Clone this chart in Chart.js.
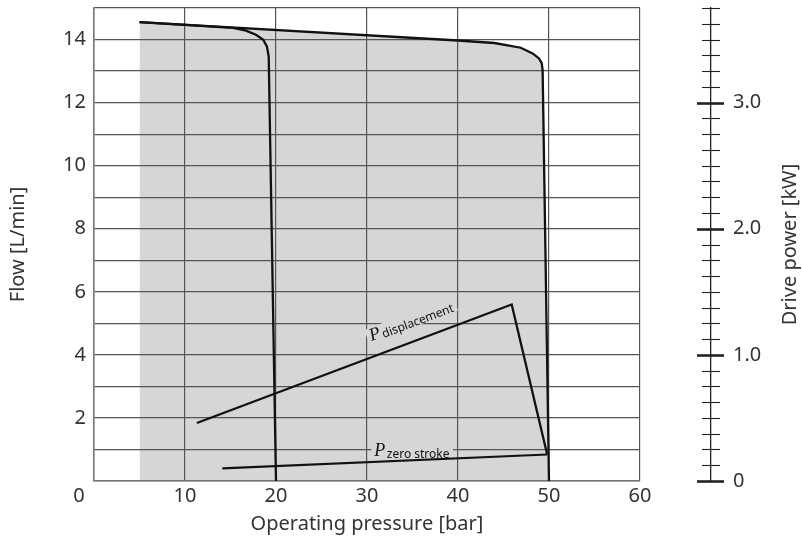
<!DOCTYPE html>
<html><head><meta charset="utf-8">
<script src="https://cdn.jsdelivr.net/npm/chart.js@4.4.0/dist/chart.umd.min.js"></script>
<style>html,body{margin:0;padding:0;background:#fff;} #wrap{width:802px;height:542px;position:relative;}</style>
</head><body><div id="wrap"><canvas id="c"></canvas></div>
<script>
// ---- data ----
const curve50Pressure = [5, 40, 44, 46.9, 48.2, 48.9, 49.2, 49.3, 50];
const curve50Flow     = [14.55, 13.97, 13.89, 13.74, 13.56, 13.40, 13.25, 13.03, 0];
const curve20Pressure = [5, 15.3, 16.7, 17.8, 18.6, 19.0, 19.2, 20];
const curve20Flow     = [14.55, 14.37, 14.28, 14.15, 13.99, 13.78, 13.46, 0];
const pDispPressure = [11.3, 45.9, 49.8];
const pDispPower    = [0.46, 1.40, 0.21];
const pZeroPressure = [14.1, 49.8];
const pZeroPower    = [0.10, 0.21];
const pressureTickStep = 10;
const flowTickStep = 1;
const flowLabelStep = 2;
const powerTickStep = 0.125;
const powerLabels = [0, 1, 2, 3];

const toPts = (xs, ys) => xs.map((x, i) => ({x: x, y: ys[i]}));
const FONT = '"Noto Sans", sans-serif';
const FS = 20;
const TXT = '#333';
const GRAY = '#d5d6d8';

const rightAxisExtras = {
  id: 'rightAxisExtras',
  afterDraw(chart) {
    const s = chart.scales.y2, ctx = chart.ctx, x0 = s.left;
    ctx.save();
    ctx.strokeStyle = '#222';
    s.ticks.forEach(t => {
      const py = Math.round(s.getPixelForValue(t.value)) + 0.5;
      const major = Math.abs(t.value - Math.round(t.value)) < 1e-6;
      ctx.lineWidth = major ? 2.6 : 1.1;
      ctx.beginPath();
      ctx.moveTo(x0 - (major ? 14 : 9), py);
      ctx.lineTo(x0 + (major ? 13 : 9), py);
      ctx.stroke();
    });
    // axis title, reading bottom-to-top like the reference
    ctx.translate(s.right - 12, (s.top + s.bottom) / 2);
    ctx.rotate(-Math.PI / 2);
    ctx.fillStyle = TXT;
    ctx.font = FS + 'px ' + FONT;
    ctx.textAlign = 'center';
    ctx.textBaseline = 'middle';
    ctx.fillText('Drive power [kW]', 0, 0);
    ctx.restore();
  }
};

function pLabel(ctx, x, y, angle, sub) {
  ctx.save();
  ctx.translate(x, y);
  ctx.rotate(angle);
  ctx.font = 'italic 18px "Liberation Serif", serif';
  const pw = ctx.measureText('P').width;
  ctx.font = '12px ' + FONT;
  const sw = ctx.measureText(sub).width;
  ctx.fillStyle = GRAY;
  ctx.fillRect(-3, -13, pw + sw + 8, 15);
  ctx.fillStyle = '#111';
  ctx.textBaseline = 'alphabetic';
  ctx.font = 'italic 18px "Liberation Serif", serif';
  ctx.fillText('P', 0, 0);
  ctx.font = '12px ' + FONT;
  ctx.fillText(sub, pw + 1.5, 1.5);
  ctx.restore();
}

const curveLabels = {
  id: 'curveLabels',
  beforeDatasetsDraw(chart) {
    const x = chart.scales.x, y2 = chart.scales.y2, ctx = chart.ctx;
    const a = Math.atan2(y2.getPixelForValue(pDispPower[1]) - y2.getPixelForValue(pDispPower[0]),
                         x.getPixelForValue(pDispPressure[1]) - x.getPixelForValue(pDispPressure[0]));
    pLabel(ctx, x.getPixelForValue(30.5), y2.getPixelForValue(1.11), a, 'displacement');
    pLabel(ctx, x.getPixelForValue(30.8), y2.getPixelForValue(0.198), 0, 'zero stroke');
  }
};

const line = (data, axis, extra) => Object.assign({
  data: data, yAxisID: axis, showLine: true, borderColor: '#111', borderWidth: 2.3,
  pointRadius: 0, tension: 0, fill: false
}, extra || {});

const noPadV = s => { s.paddingTop = 0; s.paddingBottom = 0; };

new Chart(document.getElementById('c'), {
  type: 'scatter',
  data: {
    datasets: [
      line(toPts(curve50Pressure, curve50Flow), 'y', {fill: 'origin', backgroundColor: GRAY}),
      line(toPts(curve20Pressure, curve20Flow), 'y'),
      line(toPts(pDispPressure, pDispPower), 'y2'),
      line(toPts(pZeroPressure, pZeroPower), 'y2', {borderWidth: 2.1})
    ]
  },
  options: {
    responsive: true, maintainAspectRatio: false, animation: false,
    layout: {padding: {top: 8, left: 0, right: 0, bottom: 0}},
    plugins: {legend: {display: false}, tooltip: {enabled: false}, filler: {drawTime: 'beforeDraw'}},
    scales: {
      x: {
        type: 'linear', min: 0, max: 60,
        ticks: {stepSize: pressureTickStep, color: TXT, font: {family: FONT, size: FS}, padding: 3,
                callback: v => v === 0 ? '0\u2003\u2002' : String(v)},
        grid: {color: '#555', lineWidth: 1.2, drawTicks: false},
        border: {color: '#777', width: 1.5},
        title: {display: true, text: 'Operating pressure [bar]', color: TXT, font: {family: FONT, size: FS}, padding: {top: 0, bottom: 6}},
        afterFit: s => { s.height = 61; s.paddingLeft = 0; s.paddingRight = 0; }
      },
      y: {
        type: 'linear', position: 'left', min: 0, max: 15,
        ticks: {stepSize: flowTickStep, color: TXT, font: {family: FONT, size: FS}, padding: 8, autoSkip: false,
                callback: v => (v !== 0 && v % flowLabelStep === 0) ? String(v) : ''},
        grid: {color: '#555', lineWidth: 1.2, drawTicks: false},
        border: {color: '#777', width: 1.5},
        title: {display: true, text: 'Flow [L/min]', color: TXT, font: {family: FONT, size: FS}, padding: {top: 6, bottom: 0}},
        afterFit: s => { s.width = 94; noPadV(s); }
      },
      gap: {
        type: 'linear', position: 'right', weight: 0, display: true,
        ticks: {display: false}, grid: {display: false, drawTicks: false}, border: {display: false},
        afterFit: s => { s.width = 71; noPadV(s); }
      },
      y2: {
        type: 'linear', position: 'right', weight: 1, min: 0, max: 3.75,
        ticks: {stepSize: powerTickStep, autoSkip: false, color: TXT, font: {family: FONT, size: FS}, padding: 22,
                callback: v => {
                  const r = Math.round(v);
                  if (Math.abs(v - r) > 1e-6 || powerLabels.indexOf(r) < 0) return '';
                  return r === 0 ? '0' : r.toFixed(1);
                }},
        grid: {display: false, drawTicks: false},
        border: {display: true, color: '#222', width: 1.3},
        title: {display: false},
        afterFit: s => { s.width = 91; noPadV(s); }
      }
    }
  },
  plugins: [rightAxisExtras, curveLabels]
});
</script></body></html>
